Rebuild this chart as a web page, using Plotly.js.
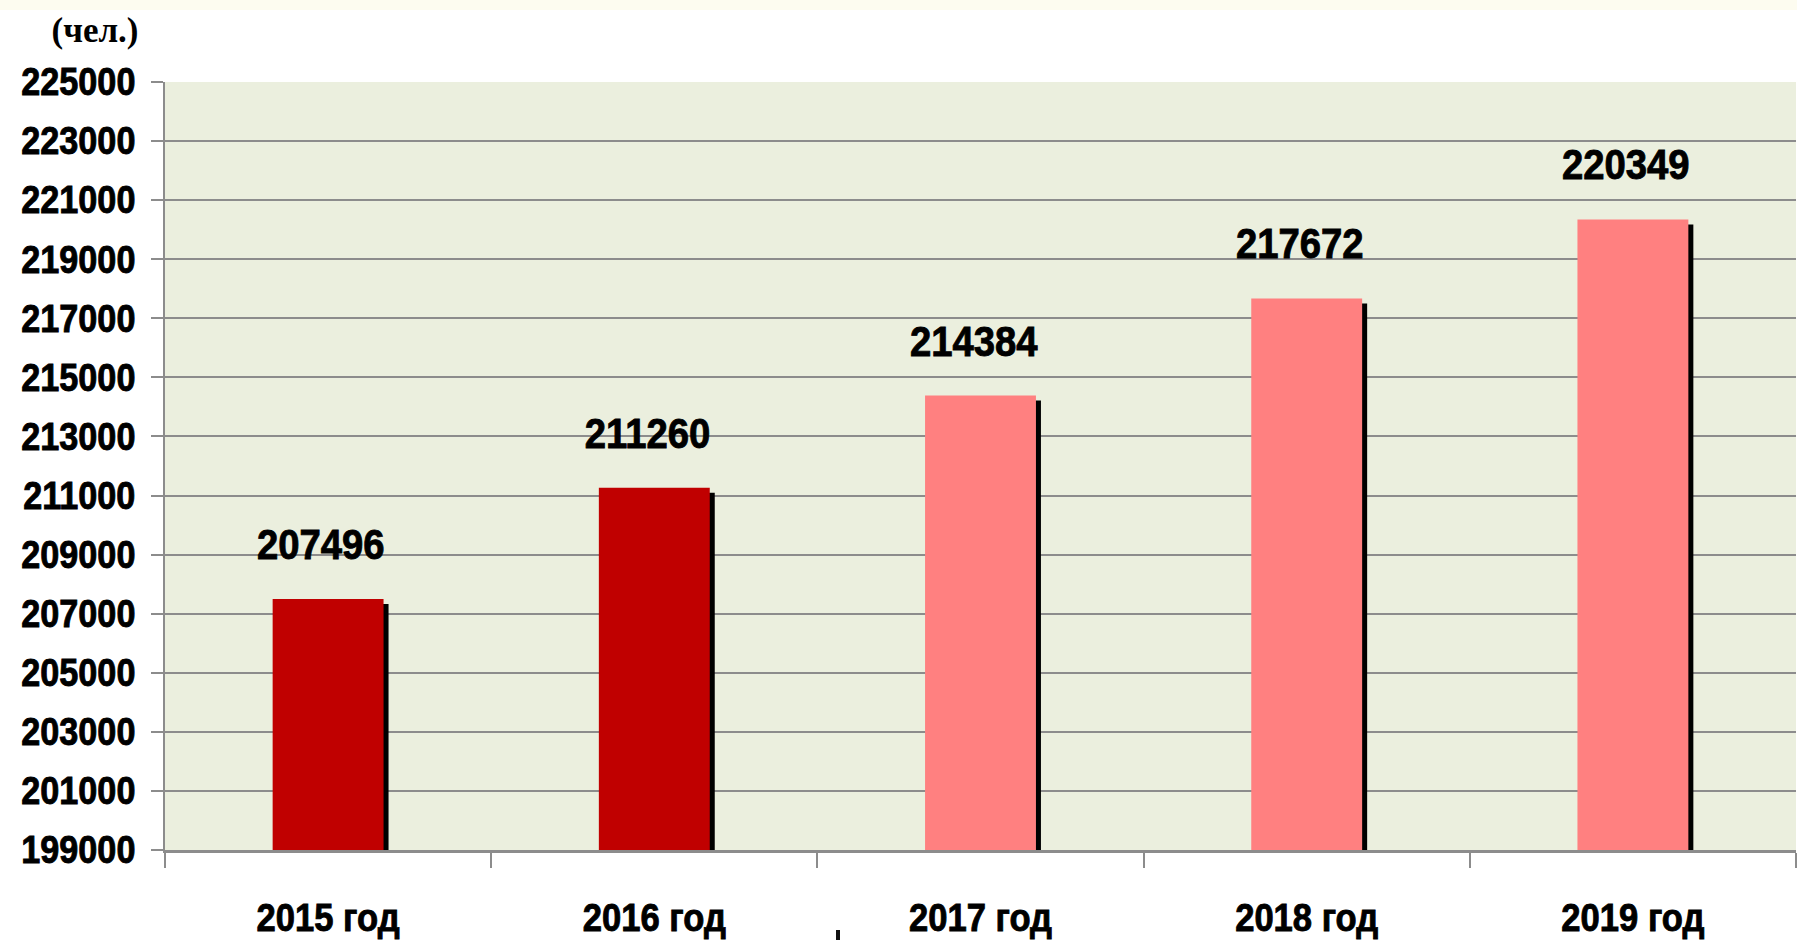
<!DOCTYPE html>
<html>
<head>
<meta charset="utf-8">
<script src="https://cdn.plot.ly/plotly-3.0.1.min.js"></script>
<style>
  html, body { margin: 0; padding: 0; }
  body { width: 1797px; height: 940px; background: linear-gradient(#FDFCF0 0px, #FDFCF0 10px, #FFFFFF 10px); }
  #chart { width: 1797px; height: 940px; }
  .xtick text, .ytick text, .annotation-text { stroke: #000000; stroke-width: 0.9px; }
</style>
</head>
<body>
<div id="chart"></div>
<script>
// ---- data ----
const categories = ['2015 год', '2016 год', '2017 год', '2018 год', '2019 год'];
const values = [207496, 211260, 214384, 217672, 220349];
const barColors = ['#C00000', '#C00000', '#FF8080', '#FF8080', '#FF8080'];
const unitLabel = '(чел.)';
const yMin = 199000, yMax = 225000, yStep = 2000;

// ---- style ----
const W = 1797, H = 940;
const margin = { l: 165, r: 1, t: 82, b: 90, pad: 0 };
const barWidth = 0.34;
const shadowPx = 5;
const plotH = H - margin.t - margin.b;
const plotW = W - margin.l - margin.r;
const shadowDy = shadowPx / plotH * (yMax - yMin);
const shadowDx = shadowPx / (plotW / categories.length);
const sans = '"Liberation Sans", Arial, sans-serif';
const gridColor = '#8C8C8C';

const shadow = {
  type: 'bar', x: categories, y: values.map(v => v - shadowDy),
  width: barWidth, offset: -barWidth / 2 + shadowDx,
  marker: { color: '#000000', line: { width: 0 } },
  hoverinfo: 'skip', showlegend: false
};
const bars = {
  type: 'bar', x: categories, y: values,
  width: barWidth, offset: -barWidth / 2,
  marker: { color: barColors, line: { width: 0 } },
  hoverinfo: 'skip', showlegend: false
};

const annotations = categories.map((c, i) => ({
  x: c, y: values[i], xref: 'x', yref: 'y',
  text: '<b>' + values[i] + '</b>', showarrow: false,
  xanchor: 'center', yanchor: 'bottom', xshift: -7, yshift: 29,
  font: { family: sans, size: 43, color: '#000000' }
}));

const layout = {
  width: W, height: H,
  margin: margin,
  paper_bgcolor: 'rgba(0,0,0,0)',
  plot_bgcolor: '#EBEFDE',
  barmode: 'overlay',
  showlegend: false,
  title: {
    text: '<b>' + unitLabel + '</b>',
    xref: 'container', yref: 'container',
    x: 95 / W, y: 1 - 30 / H, xanchor: 'center', yanchor: 'middle',
    font: { family: '"Liberation Serif", "Times New Roman", serif', size: 35, color: '#000000' }
  },
  xaxis: {
    type: 'category',
    tickson: 'boundaries',
    ticks: 'outside', ticklen: 15, tickwidth: 2, tickcolor: gridColor,
    showline: true, linecolor: gridColor, linewidth: 3,
    showgrid: false, zeroline: false,
    ticklabelstandoff: 32,
    tickfont: { family: sans, size: 38, color: '#000000', weight: 'bold' },
    fixedrange: true
  },
  yaxis: {
    range: [yMin, yMax],
    tick0: yMin, dtick: yStep,
    ticks: 'outside', ticklen: 12, tickwidth: 2, tickcolor: gridColor,
    showline: true, linecolor: gridColor, linewidth: 2,
    showgrid: true, gridcolor: gridColor, gridwidth: 2,
    zeroline: false,
    tickformat: 'd',
    ticklabelstandoff: 8,
    tickfont: { family: sans, size: 38, color: '#000000', weight: 'bold' },
    fixedrange: true
  },
  shapes: [{
    type: 'rect', xref: 'paper', yref: 'paper',
    x0: (836 - margin.l) / plotW, x1: (840 - margin.l) / plotW,
    y0: -(930 - (H - margin.b)) / plotH, y1: -(940 - (H - margin.b)) / plotH,
    fillcolor: '#111111', line: { width: 0 }
  }],
  annotations: annotations
};

// horizontal condensing of text to mimic the narrow font of the original
function condense(sel, s) {
  document.querySelectorAll(sel).forEach(t => {
    const b = t.getBBox();
    const anchor = t.getAttribute('text-anchor') || (t.style && t.style.textAnchor) || 'start';
    let cx = b.x + b.width / 2;
    if (anchor === 'end') cx = b.x + b.width;
    else if (anchor === 'start') cx = b.x;
    const T = t.getAttribute('transform') || '';
    t.setAttribute('transform', T + ' translate(' + cx + ',0) scale(' + s + ',1) translate(' + (-cx) + ',0)');
  });
}

Plotly.newPlot('chart', [shadow, bars], layout, { staticPlot: true, displayModeBar: false }).then(() => {
  condense('.ytick text', 0.9);
  condense('.xtick text', 0.91);
  condense('.annotation-text', 0.89);
});
</script>
</body>
</html>
